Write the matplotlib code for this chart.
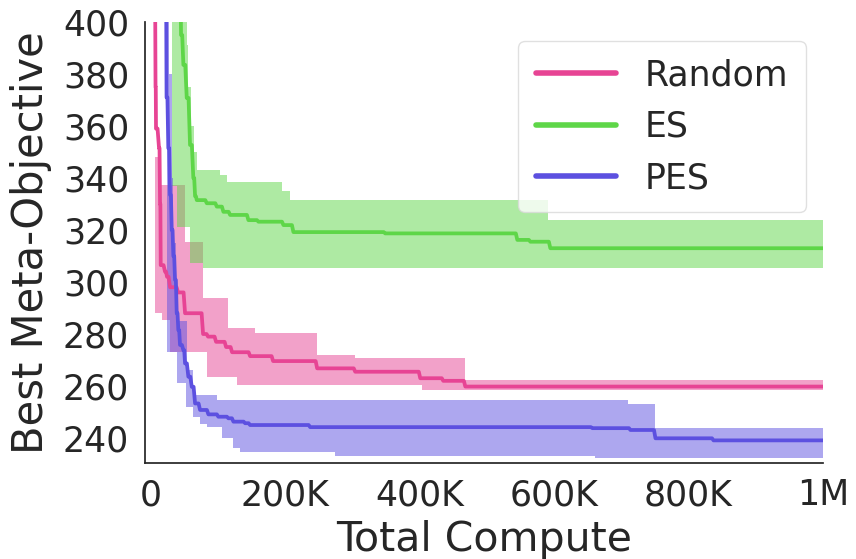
import numpy as np
import matplotlib
matplotlib.use("Agg")
import matplotlib.pyplot as plt

# ---- data (compute in thousands, objective values) ----
series_names = ["Random", "ES", "PES"]
series_colors = ["#E74494", "#5ED648", "#5C50E0"]

random_x = [6.1, 7.6, 8.3, 12.8, 14.3, 15.3, 21.7, 24.7, 29.2, 41.1, 51.5, 78.3, 85.7, 97.6,
            112.5, 121.4, 148.2, 182.4, 247.9, 304.5, 401.2, 435.4, 468.2, 1000]
random_y = [420, 375, 359, 351.5, 330, 306.5, 304, 302, 298, 296, 288, 280, 279, 277,
            275, 273, 271.5, 269.6, 266.8, 265.5, 263, 262, 259.8, 259.8]
random_up_x = [0, 6.8, 15.8, 51.5, 78.3, 115.5, 155.7, 247.9, 304.5, 468.2, 1000]
random_up_y = [420, 348, 337.3, 315.5, 293.8, 282.3, 280.3, 272, 270.7, 262.3, 262.3]
random_lo_x = [0, 6.8, 16.8, 29.2, 84.2, 128.9, 404.2, 1000]
random_lo_y = [420, 288, 285.4, 273, 263.3, 260.4, 258.5, 258.5]

es_x = [44.0, 45.5, 49.0, 54.0, 58.9, 63.8, 66.4, 68.9, 83.8, 98.7, 108.5, 118.5, 145.7,
        160.6, 197.8, 212.6, 349.1, 545.5, 564.9, 594.6, 1000]
es_y = [420, 395, 383.5, 370.8, 352.7, 340, 333, 331.5, 330.3, 329, 327, 325.8, 323.8,
        323.2, 321.9, 319.2, 318.7, 316.2, 315.5, 313, 313]
es_up_x = [51.5, 54.0, 56.4, 59.7, 64.1, 68.9, 103.6, 113.5, 195.8, 207.7, 591.7, 1000]
es_up_y = [420, 391, 375, 360, 350, 343, 341.2, 338.6, 335, 331.5, 323.8, 323.8]
es_lo_x = [29.2, 31.7, 39.1, 58.9, 78.7, 1000]
es_lo_y = [420, 337, 321, 307.3, 305.3, 305.3]

pes_x = [22.5, 24.0, 26.6, 29.2, 31.7, 34.1, 36.6, 39.1, 41.5, 44.0, 49.0, 51.5, 56.4, 61.5,
         66.4, 73.8, 86.2, 101.0, 115.9, 123.4, 140.8, 148.2, 237.5, 657.1, 713.7, 750.9,
         837.2, 1000]
pes_y = [420, 371, 351.5, 333.5, 320, 310, 300.8, 288, 281.5, 275.8, 273.8, 268.7, 263.6,
         259.7, 253.3, 250.8, 249.1, 248.2, 247.6, 246.3, 245.7, 245, 244.2, 243.8, 243.1,
         239.9, 239.1, 239.1]
pes_up_x = [20.2, 27.7, 31.4, 34.1, 38.1, 41.5, 54.0, 63.8, 98.7, 710.7, 750.9, 1000]
pes_up_y = [420, 380, 340, 315, 298, 285, 266, 256.5, 254.5, 253.1, 243.7, 243.7]
pes_lo_x = [20.2, 24.3, 39.1, 53.0, 63.4, 73.8, 83.8, 106.5, 123.4, 133.3, 274.7, 661.6, 1000]
pes_lo_y = [420, 273, 261, 252, 248.2, 245.4, 244.4, 240, 236.2, 234.7, 233, 232.2, 232.2]

x_ticks = [0, 200, 400, 600, 800, 1000]
x_tick_labels = ["0", "200K", "400K", "600K", "800K", "1M"]
y_ticks = [240, 260, 280, 300, 320, 340, 360, 380, 400]


def step_eval(xk, yk, xs):
    xk = np.asarray(xk, float)
    yk = np.asarray(yk, float)
    idx = np.searchsorted(xk, xs, side="right") - 1
    idx = np.clip(idx, 0, len(xk) - 1)
    return yk[idx]


def soft_steps(xk, yk, ramp=2.2):
    """Step curve whose transitions take a short ramp (like a sampled curve)."""
    vx, vy = [], []
    n = len(xk)
    for i in range(n):
        vx.append(xk[i])
        vy.append(yk[i])
        if i < n - 1:
            gap = xk[i + 1] - xk[i]
            d = min(0.5 * gap, ramp)
            vx.append(xk[i + 1] - d)
            vy.append(yk[i])
    return np.array(vx), np.array(vy)


plt.rcParams["font.family"] = ["DejaVu Sans"]
fig = plt.figure(figsize=(8.56, 5.59), dpi=100)
ax = fig.add_axes([144.5 / 856, 96 / 559, 678.5 / 856, 441 / 559])

all_series = [
    (random_x, random_y, random_up_x, random_up_y, random_lo_x, random_lo_y),
    (es_x, es_y, es_up_x, es_up_y, es_lo_x, es_lo_y),
    (pes_x, pes_y, pes_up_x, pes_up_y, pes_lo_x, pes_lo_y),
]

for name, col, (mx, my, ux, uy, lx, ly) in zip(series_names, series_colors, all_series):
    vx, vy = soft_steps(mx, my)
    ax.plot(vx * 1e3, vy, color=col, lw=2.7, label=name,
            solid_joinstyle="round", solid_capstyle="butt")
    xs = np.array(sorted(set(ux) | set(lx)), float)
    yu = step_eval(ux, uy, xs)
    yl = step_eval(lx, ly, xs)
    ax.fill_between(xs * 1e3, yl, yu, step="post", color=col, alpha=0.5, lw=0)

ax.set_xlim(-8800, 1e6)
ax.set_ylim(230.4, 400)
ax.set_xticks(np.array(x_ticks) * 1e3)
ax.set_xticklabels(x_tick_labels)
ax.set_yticks(y_ticks)
ax.tick_params(axis="both", length=0, pad=11, labelsize=25, colors="0.15")
ax.set_xlabel("Total Compute", fontsize=29.5, color="0.15", labelpad=5.5)
ax.set_ylabel("Best Meta-Objective", fontsize=30, color="0.15", labelpad=8)
for s in ["top", "right"]:
    ax.spines[s].set_visible(False)
for s in ["left", "bottom"]:
    ax.spines[s].set_color("0.15")
    ax.spines[s].set_linewidth(1.25)

leg = ax.legend(loc="upper right", fontsize=25, handlelength=2.3, handletextpad=0.85,
                framealpha=0.8, edgecolor="0.85", fancybox=True, borderpad=0.5,
                labelspacing=0.5, bbox_to_anchor=(0.975, 0.957), borderaxespad=0)
for h in leg.get_lines():
    h.set_linewidth(4)
    h.set_solid_capstyle("round")
for t in leg.get_texts():
    t.set_color("0.15")

fig.savefig("out.png", dpi=100)
